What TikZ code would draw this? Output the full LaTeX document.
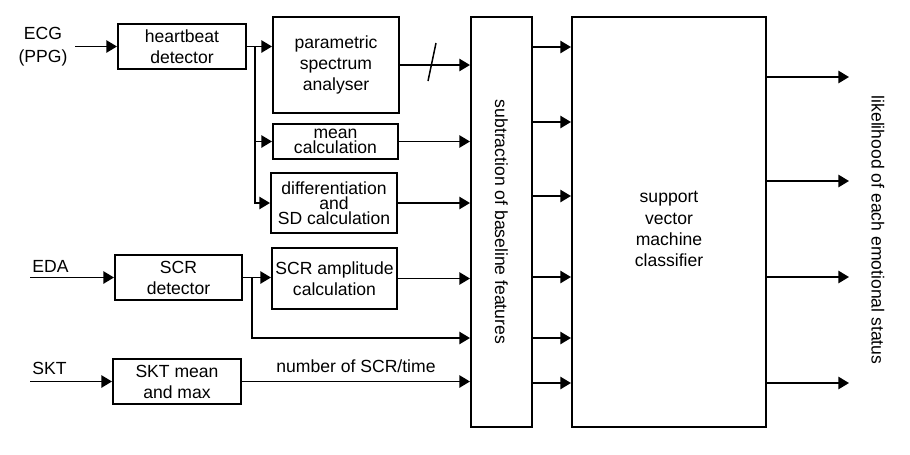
\documentclass[tikz,border=0pt]{standalone}
\usepackage{fontspec}
\setmainfont{Liberation Sans}
\usetikzlibrary{arrows.meta}

\begin{document}
\begin{tikzpicture}[x=0.02cm, y=-0.02cm,
    box/.style={draw, line width=1.2pt, align=center, inner sep=0pt},
    arr/.style={line width=0.85pt, -{Triangle[length=6pt, width=7pt]}},
    tight/.style={font=\fontsize{10}{8.5}\selectfont}]
    \useasboundingbox (0,0) rectangle (910,454);

    % Blocs de traitement
    \node[box, minimum width=2.56cm, minimum height=0.9cm] (hb) at (182,46.5) {heartbeat\\detector};
    \node[box, minimum width=2.52cm, minimum height=1.92cm] (psa) at (336,65) {parametric\\spectrum\\analyser};
    \node[box, tight, minimum width=2.5cm, minimum height=0.7cm] (mean) at (335.5,141.5) {mean\\calculation};
    \node[box, tight, minimum width=2.52cm, minimum height=1.2cm] (diff) at (334,203) {differentiation\\and\\SD calculation};
    \node[box, minimum width=2.54cm, minimum height=0.9cm] (scrd) at (178.5,277.5) {SCR\\detector};
    \node[box, minimum width=2.5cm, minimum height=1.22cm] (scra) at (334.5,278.5) {SCR amplitude\\calculation};
    \node[box, minimum width=2.56cm, minimum height=0.9cm] (sktm) at (177,381.5) {SKT mean\\and max};

    % Grands blocs
    \node[box, minimum width=1.22cm, minimum height=8.2cm] (sub) at (501.5,222) {};
    \node[rotate=-90] (subtxt) at (sub.center) {subtraction of baseline features};
    \node[box, minimum width=3.88cm, minimum height=8.2cm] (svm) at (669,222) {};
    \node[align=center] (svmtxt) at (669,229) {support\\vector\\machine\\classifier};

    % Entrees
    \coordinate (ecg) at (75,46.5);
    \coordinate (eda) at (30,277.5);
    \coordinate (skt) at (30,381.5);
    \node[align=center] (ecgtxt) at (43,46.5) {ECG\\[1pt](PPG)};
    \node[anchor=base west, inner sep=0pt] (edatxt) at (32,272) {EDA};
    \node[anchor=base west, inner sep=0pt] (skttxt) at (32,374) {SKT};
    \draw[arr] (ecg) -- (hb.west);
    \draw[arr] (eda) -- (scrd.west);
    \draw[arr] (skt) -- (sktm.west);

    % Branche ECG
    \coordinate (br1) at (255,46.5);
    \draw[arr] (hb.east) -- (hb.east -| psa.west);
    \draw[arr] (br1) |- (mean.west);
    \draw[arr] (br1) |- (diff.west);
    \draw[arr] (psa.east) -- (psa.east -| sub.west);
    \draw[arr] (mean.east) -- (mean.east -| sub.west);
    \draw[arr] (diff.east) -- (diff.east -| sub.west);
    \draw[line width=0.85pt] (428,81) -- (436,43);

    % Branche EDA
    \coordinate (br2) at (252,277.5);
    \coordinate (br2b) at (252,338);
    \draw[arr] (scrd.east) -- (scrd.east -| scra.west);
    \draw[arr] (scra.east) -- (scra.east -| sub.west);
    \draw[arr] (br2) -- (br2b) -- (br2b -| sub.west);

    % Branche SKT
    \draw[arr] (sktm.east) -- node[midway, above=1pt] {number of SCR/time} (sktm.east -| sub.west);

    % Vers le classifieur
    \foreach \y [count=\i] in {47,122,196,277,338,383} {
        \coordinate (r\i) at (0,\y);
        \draw[arr] (sub.east |- r\i) -- (svm.west |- r\i);
    }

    % Sorties
    \foreach \y [count=\i] in {77,181,277,383} {
        \coordinate (o\i) at (849,\y);
        \draw[arr] (svm.east |- o\i) -- (o\i);
    }
    \node[rotate=-90] (outtxt) at (878,230) {likelihood of each emotional status};
\end{tikzpicture}
\end{document}
